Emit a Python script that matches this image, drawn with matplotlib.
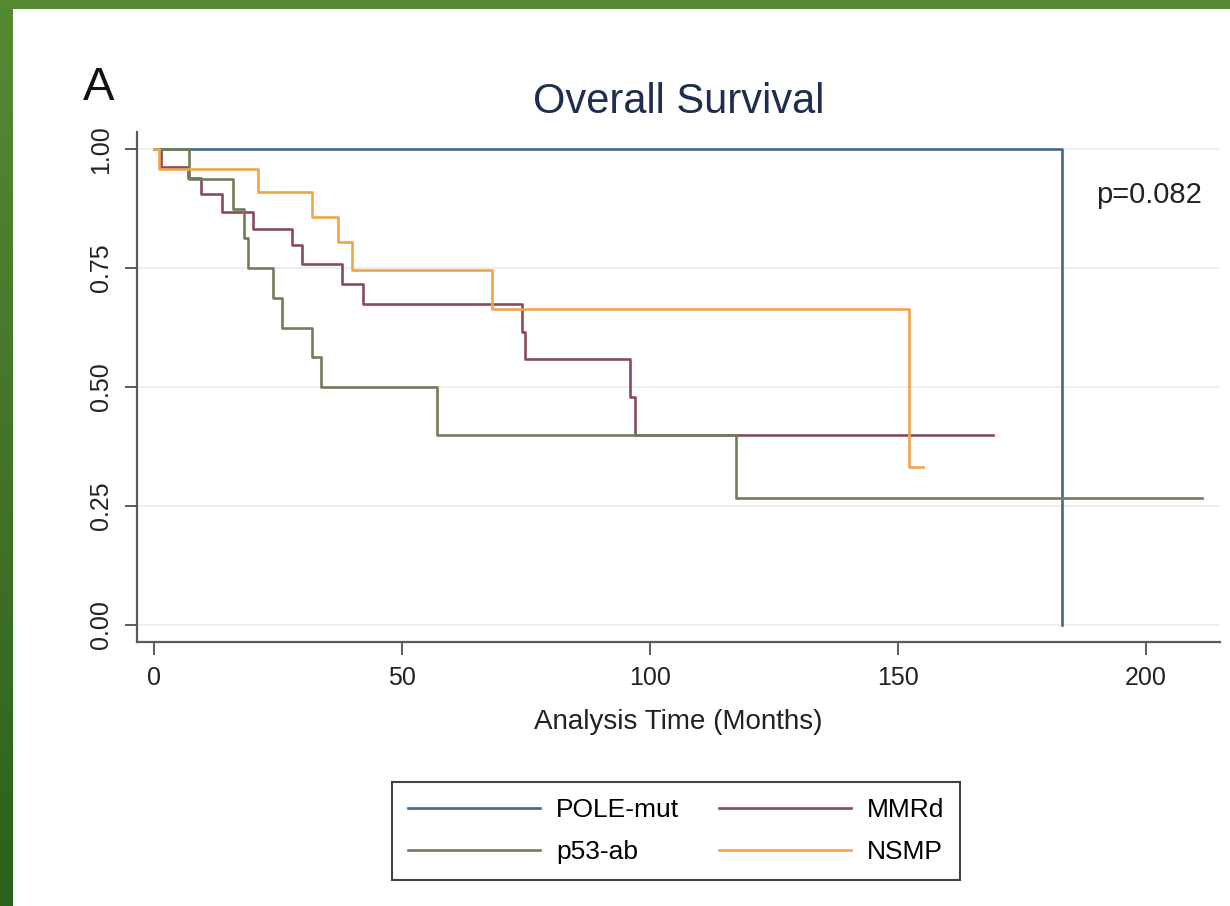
import matplotlib
matplotlib.use("Agg")
import matplotlib.pyplot as plt
import numpy as np
from matplotlib.patches import Rectangle

plt.rcParams['font.family'] = ['Liberation Sans', 'DejaVu Sans']

# Kaplan-Meier step data (time in months, survival)
pole_t = [0, 183.2]
pole_s = [1.0, 0.0]

mmrd_t = [0, 1.5, 6.9, 9.6, 13.7, 20.0, 27.8, 29.8, 37.9, 42.2, 74.2, 74.9, 96.1, 97.1, 169.3]
mmrd_s = [1.0, 0.963, 0.94, 0.905, 0.868, 0.833, 0.798, 0.759, 0.717, 0.675, 0.615, 0.559, 0.479, 0.40, 0.40]

p53_t = [0, 7.0, 16.0, 18.2, 19.0, 24.1, 25.8, 31.8, 33.8, 57.0, 117.3, 211.4]
p53_s = [1.0, 0.9375, 0.875, 0.8125, 0.75, 0.6875, 0.625, 0.5625, 0.5, 0.40, 0.267, 0.267]

nsmp_t = [0, 1.0, 21.0, 31.8, 37.2, 39.9, 68.1, 152.2, 155.2]
nsmp_s = [1.0, 0.959, 0.91, 0.857, 0.805, 0.745, 0.665, 0.331, 0.331]

labels = ["POLE-mut", "MMRd", "p53-ab", "NSMP"]
colors = ["#44698c", "#874a62", "#6f7d58", "#eda548"]

x_ticks = [0, 50, 100, 150, 200]
y_ticks = [0.0, 0.25, 0.5, 0.75, 1.0]
y_ticklabels = ["0.00", "0.25", "0.50", "0.75", "1.00"]

fig = plt.figure(figsize=(12.3, 9.06), dpi=100)

# green slide background (darker towards the bottom)
bg = fig.add_axes([0, 0, 1, 1], zorder=-10)
grad = np.linspace(0, 1, 256).reshape(-1, 1)
bg.imshow(grad, aspect="auto", extent=[0, 1, 0, 1], origin="upper",
          cmap=matplotlib.colors.LinearSegmentedColormap.from_list("g", ["#558a34", "#2c611d"]))
bg.add_patch(Rectangle((13 / 1230, 0), 1, 1 - 9 / 906, facecolor="white", edgecolor="none"))
bg.set_xlim(0, 1)
bg.set_ylim(0, 1)
bg.axis("off")

ax = fig.add_axes([137 / 1230, 1 - 642 / 906, (1220 - 137) / 1230, (642 - 132) / 906])
ax.set_facecolor("none")

series = [(pole_t, pole_s), (mmrd_t, mmrd_s), (p53_t, p53_s), (nsmp_t, nsmp_s)]
handles = []
for (t, s), lab, c in zip(series, labels, colors):
    h, = ax.step(t, s, where="post", color=c, lw=1.9, label=lab)
    handles.append(h)

ax.set_xlim(-3.4, 215)
ax.set_ylim(-0.036, 1.036)
ax.set_xticks(x_ticks)
ax.set_yticks(y_ticks)
ax.set_yticklabels(y_ticklabels, rotation=90, va="center")
ax.grid(axis="y", color="#ebebeb", lw=1.2)
ax.set_axisbelow(True)

for sp in ["top", "right"]:
    ax.spines[sp].set_visible(False)
for sp in ["left", "bottom"]:
    ax.spines[sp].set_color("#5a5a5a")
    ax.spines[sp].set_linewidth(1.6)
ax.tick_params(axis="both", direction="out", length=9, width=1.4, color="#5a5a5a",
               labelsize=18, labelcolor="#222222")
ax.tick_params(axis="y", pad=8)
ax.tick_params(axis="x", pad=8)

ax.set_xlabel("Analysis Time (Months)", fontsize=20, color="#222222", labelpad=14)
ax.set_title("Overall Survival", fontsize=30, color="#1f2e4f", pad=14)
ax.text(200.6, 0.903, "p=0.082", fontsize=21, color="#222222", ha="center", va="center")

fig.text(83 / 1230, 1 - 100 / 906, "A", fontsize=34, color="#111111", ha="left", va="baseline")

leg = fig.legend([handles[0], handles[2], handles[1], handles[3]],
                 [labels[0], labels[2], labels[1], labels[3]],
                 ncol=2, loc="center", bbox_to_anchor=(676 / 1230, 1 - 831 / 906),
                 fontsize=19, handlelength=5.0, handletextpad=0.6, columnspacing=1.5,
                 fancybox=False, framealpha=1, edgecolor="#444444", borderpad=0.6,
                 labelspacing=0.7)
leg.get_frame().set_linewidth(1.5)

fig.savefig("out.png", dpi=100)
